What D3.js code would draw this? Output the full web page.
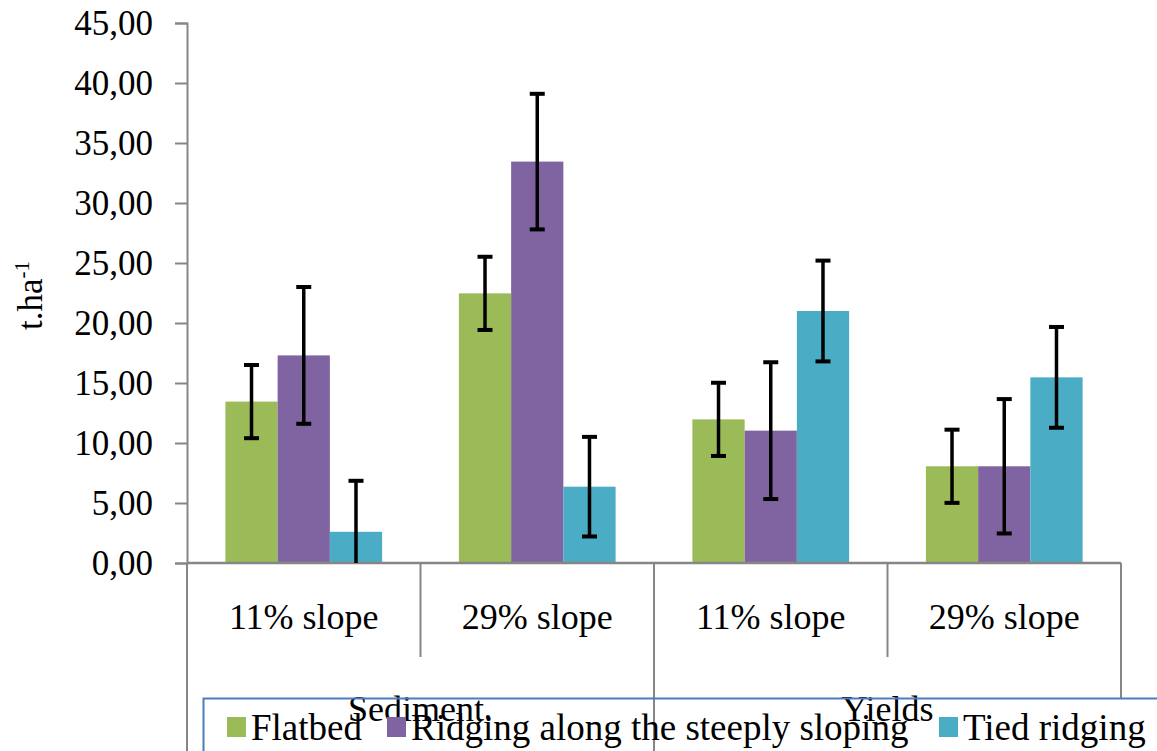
<!DOCTYPE html>
<html>
<head>
<meta charset="utf-8">
<script src="https://cdn.jsdelivr.net/npm/d3@7/dist/d3.min.js"></script>
<style>
  html, body { margin: 0; padding: 0; background: #fff; }
  svg { display: block; }
</style>
</head>
<body>
<svg id="chart" width="1157" height="751"></svg>
<script>
// ---- data ----
const groups = ["Sediment.", "Yields"];
const categories = ["11% slope", "29% slope", "11% slope", "29% slope"];
const categoryGroup = [0, 0, 1, 1];
const seriesNames = ["Flatbed", "Ridging along the steeply sloping", "Tied ridging"];
const flatbed = [13.45, 22.47, 11.97, 8.06];
const ridging = [17.30, 33.45, 11.03, 8.06];
const tied = [2.60, 6.36, 21.00, 15.47];
const flatbedErr = [3.05, 3.05, 3.05, 3.05];
const ridgingErr = [5.70, 5.65, 5.70, 5.60];
const tiedErr = [4.25, 4.15, 4.20, 4.20];
const yTicks = [0, 5, 10, 15, 20, 25, 30, 35, 40, 45];

// ---- layout ----
const FONT = "'Liberation Serif', 'Times New Roman', serif";
const colors = ["#9bbb59", "#8064a2", "#4bacc6"];
const axisColor = "#868686";
const plotLeft = 187, plotRight = 1121, plotTop = 23, plotBottom = 563;

const svg = d3.select("#chart");
const seriesValues = [flatbed, ridging, tied];
const seriesErrs = [flatbedErr, ridgingErr, tiedErr];
const catIdx = categories.map((c, i) => i);

const x = d3.scaleBand().domain(catIdx).range([plotLeft, plotRight]).paddingInner(0).paddingOuter(0);
const xInner = d3.scaleBand().domain([0, 1, 2]).range([0, x.bandwidth()]).paddingInner(0).paddingOuter(0.735);
const y = d3.scaleLinear().domain([0, 45]).range([plotBottom, plotTop]);

function txt(sel) {
  return sel.style("font-family", FONT).attr("fill", "#000");
}

// ---- y axis ----
const fmt = d3.format(".2f");
const yAxis = d3.axisLeft(y).tickValues(yTicks).tickSize(12).tickPadding(22)
  .tickFormat(d => fmt(d).replace(".", ","));
const gy = svg.append("g").attr("transform", `translate(${plotLeft},0)`).call(yAxis);
gy.attr("font-family", null);
gy.select(".domain").attr("stroke", axisColor).attr("stroke-width", 2);
gy.selectAll(".tick line").attr("stroke", axisColor).attr("stroke-width", 2);
txt(gy.selectAll(".tick text")).attr("font-size", 35).attr("dy", "0.34em");

// y label
const yl = txt(svg.append("text")).attr("transform", `translate(42,330) rotate(-90)`)
  .attr("font-size", 35);
yl.append("tspan").text("t.ha");
yl.append("tspan").attr("font-size", 21).attr("dy", -13).text("-1");

// ---- bars ----
const gBars = svg.append("g");
seriesValues.forEach((vals, s) => {
  gBars.selectAll(null).data(catIdx).enter().append("rect")
    .attr("x", i => x(i) + xInner(s))
    .attr("width", xInner.bandwidth())
    .attr("y", i => y(vals[i]))
    .attr("height", i => y(0) - y(vals[i]))
    .attr("fill", colors[s]);
});

// ---- x axis ----
svg.append("line").attr("x1", plotLeft).attr("x2", plotRight).attr("y1", y(0)).attr("y2", y(0))
  .attr("stroke", axisColor).attr("stroke-width", 2.5);

// category separators
const sepPos = catIdx.map(i => x(i)).concat([plotRight]);
sepPos.forEach((px, k) => {
  let bottom;
  if (k === 0) bottom = 751;
  else if (k === sepPos.length - 1) bottom = 698;
  else if (categoryGroup[k] !== categoryGroup[k - 1]) bottom = 751;
  else bottom = 657;
  svg.append("line").attr("x1", px).attr("x2", px).attr("y1", y(0)).attr("y2", bottom)
    .attr("stroke", axisColor).attr("stroke-width", 2);
});

// category labels
txt(svg.selectAll(null).data(catIdx).enter().append("text"))
  .attr("x", i => x(i) + x.bandwidth() / 2).attr("y", 629)
  .attr("text-anchor", "middle").attr("font-size", 36)
  .text(i => categories[i]);

// group labels
groups.forEach((g, gi) => {
  const members = catIdx.filter(i => categoryGroup[i] === gi);
  const x0 = x(members[0]), x1 = x(members[members.length - 1]) + x.bandwidth();
  txt(svg.append("text")).attr("x", (x0 + x1) / 2).attr("y", 721)
    .attr("text-anchor", "middle").attr("font-size", 36).text(g);
});

// ---- error bars ----
const gErr = svg.append("g").attr("stroke", "#000");
seriesValues.forEach((vals, s) => {
  catIdx.forEach(i => {
    const cx = x(i) + xInner(s) + xInner.bandwidth() / 2;
    const hi = vals[i] + seriesErrs[s][i];
    const loRaw = vals[i] - seriesErrs[s][i];
    const lo = Math.max(0, loRaw);
    gErr.append("line").attr("x1", cx).attr("x2", cx).attr("y1", y(hi)).attr("y2", y(lo)).attr("stroke-width", 3.5);
    gErr.append("line").attr("x1", cx - 7.5).attr("x2", cx + 7.5).attr("y1", y(hi)).attr("y2", y(hi)).attr("stroke-width", 4);
    if (loRaw >= 0) {
      gErr.append("line").attr("x1", cx - 7.5).attr("x2", cx + 7.5).attr("y1", y(lo)).attr("y2", y(lo)).attr("stroke-width", 4);
    }
  });
});

// ---- legend ----
svg.append("rect").attr("x", 203.5).attr("y", 698.5).attr("width", 1000).attr("height", 80)
  .attr("fill", "none").attr("stroke", "#4a7ebb").attr("stroke-width", 2);
const legendX = [227, 387, 939];
seriesNames.forEach((n, s) => {
  svg.append("rect").attr("x", legendX[s]).attr("y", 717).attr("width", 19).attr("height", 20).attr("fill", colors[s]);
  txt(svg.append("text")).attr("x", legendX[s] + 24).attr("y", 740).attr("font-size", 37).text(n);
});
</script>
</body>
</html>
